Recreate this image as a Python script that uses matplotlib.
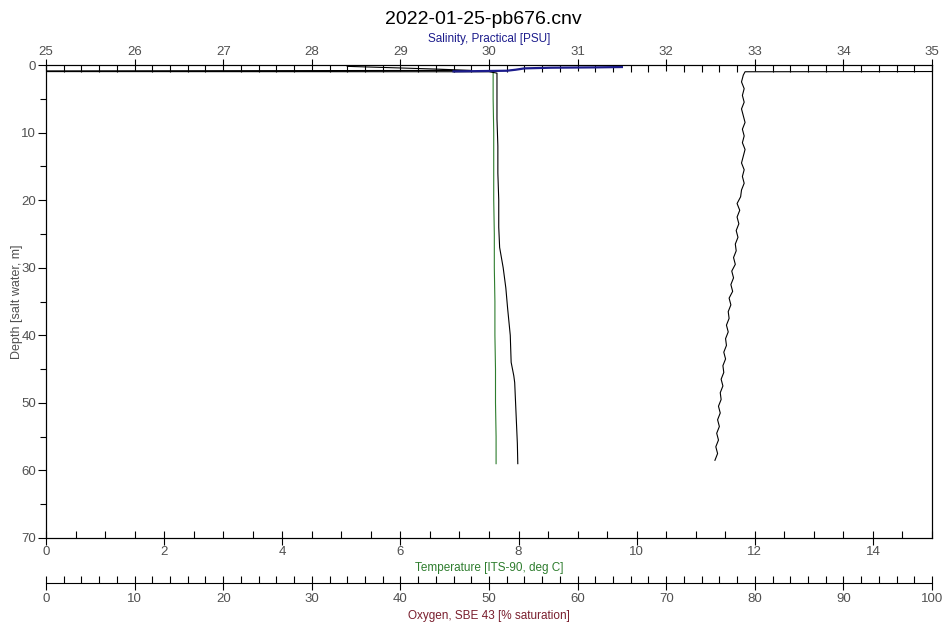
import matplotlib
matplotlib.use("Agg")
import matplotlib.pyplot as plt
from matplotlib.ticker import MultipleLocator

plt.rcParams['font.family'] = ['Liberation Sans', 'DejaVu Sans']

title = "2022-01-25-pb676.cnv"

# temperature [deg C] vs depth [m]
temp_depth = [1.0, 5, 10, 15, 20, 25, 30, 35, 40, 45, 50, 55, 59]
temp = [7.57, 7.57, 7.58, 7.58, 7.58, 7.59, 7.59, 7.60, 7.60, 7.61, 7.61, 7.62, 7.62]

# salinity-scale black profile (incl. surface spike)
sal_depth = [0.2, 0.4, 0.6, 0.8, 0.95, 1.0, 1.2, 4, 8, 12, 16, 20, 24, 27, 30, 33, 36,
             40, 44, 46, 47, 50, 53, 56, 59]
sal = [28.4, 28.9, 29.4, 29.8, 20.0, 30.0, 30.09, 30.09, 30.09, 30.10, 30.10, 30.11, 30.11,
       30.12, 30.16, 30.19, 30.21, 30.24, 30.25, 30.28, 30.29, 30.30, 30.31, 30.32, 30.325]

# blue surface salinity trace
sal_surf_depth = [0.30, 0.35, 0.40, 0.50, 0.70, 0.85, 0.95]
sal_surf = [31.5, 31.2, 30.7, 30.4, 30.3, 30.2, 29.6]

# oxygen-scale black profile [% saturation]
ox_depth = [0.95, 1.0, 1.5, 2.5, 3.5, 4.5, 5.5, 6.5, 7.5, 8.5, 9.5, 10.5, 11.5, 12.5, 13.5,
            14.5, 15.5, 16.5, 17.5, 18.5, 19.5, 20.5, 21.5, 22.5, 23.5, 24.5, 25.5, 26.5,
            27.5, 28.5, 29.5, 30.5, 31.5, 32.5, 33.5, 34.5, 35.5, 36.5, 37.5, 38.5, 39.5,
            40.5, 41.5, 42.5, 43.5, 44.5, 45.5, 46.5, 47.5, 48.5, 49.5, 50.5, 51.5, 52.5,
            53.5, 54.5, 55.5, 56.5, 57.5, 58.5]
ox = [110.0, 78.9, 78.7, 78.5, 78.8, 78.6, 78.8, 78.5, 78.7, 78.9, 78.6, 78.8, 78.6, 78.9,
      78.7, 78.5, 78.8, 78.6, 78.8, 78.5, 78.4, 78.0, 78.3, 78.0, 78.2, 77.9, 78.1, 77.8,
      77.9, 77.6, 77.8, 77.4, 77.6, 77.3, 77.5, 77.1, 77.3, 77.0, 77.1, 76.8, 77.0, 76.7,
      76.8, 76.5, 76.7, 76.4, 76.5, 76.2, 76.4, 76.1, 76.2, 75.9, 76.1, 75.8, 76.0, 75.7,
      75.9, 75.6, 75.8, 75.5]

green = '#2e7d2e'
blue = '#1c1c8c'
red = '#7a1f2e'
grey = '#505050'

fig = plt.figure(figsize=(9.42, 6.24), dpi=100)
ax = fig.add_axes([46/942, 1-538/624, 886/942, 473/624])

ax.plot(temp, temp_depth, color=green, lw=0.8)
ax.set_xlim(0, 15)
ax.set_ylim(70, 0)
ax.xaxis.set_major_locator(MultipleLocator(2))
ax.xaxis.set_minor_locator(MultipleLocator(0.5))
ax.yaxis.set_major_locator(MultipleLocator(10))
ax.yaxis.set_minor_locator(MultipleLocator(5))
ax.tick_params(axis='x', which='major', direction='inout', length=10, width=0.8,
               labelsize=9.5, labelcolor=grey, pad=1)
ax.tick_params(axis='x', which='minor', direction='in', length=5, width=0.8)
ax.tick_params(axis='y', which='major', direction='out', length=6, width=0.8,
               labelsize=9.5, labelcolor=grey, pad=1)
ax.tick_params(axis='y', which='minor', direction='out', length=4, width=0.8)
ax.set_xlabel('Temperature [ITS-90, deg C]', color=green, fontsize=8.5, labelpad=3)
ax.set_ylabel('Depth [salt water, m]', color=grey, fontsize=9, labelpad=-1)
for s in ax.spines.values():
    s.set_linewidth(0.8)

# salinity on top
ax_sal = ax.twiny()
ax_sal.plot(sal, sal_depth, color='black', lw=0.8)
ax_sal.plot(sal_surf, sal_surf_depth, color=blue, lw=1.6)
ax_sal.set_xlim(25, 35)
ax_sal.xaxis.set_major_locator(MultipleLocator(1))
ax_sal.xaxis.set_minor_locator(MultipleLocator(0.2))
ax_sal.tick_params(axis='x', which='major', direction='inout', length=8, width=0.8,
                   labelsize=9.5, labelcolor=grey, pad=1)
ax_sal.tick_params(axis='x', which='minor', direction='in', length=5, width=0.8)
ax_sal.set_xlabel('Salinity, Practical [PSU]', color=blue, fontsize=8.5, labelpad=3)

# oxygen on a second bottom axis
ax_ox = ax.twiny()
ax_ox.plot(ox, ox_depth, color='black', lw=0.8)
ax_ox.set_xlim(0, 100)
ax_ox.xaxis.set_ticks_position('bottom')
ax_ox.xaxis.set_label_position('bottom')
ax_ox.spines['bottom'].set_position(('outward', 32.4))
ax_ox.spines['bottom'].set_linewidth(0.8)
for k in ['top', 'left', 'right']:
    ax_ox.spines[k].set_visible(False)
ax_ox.xaxis.set_major_locator(MultipleLocator(10))
ax_ox.xaxis.set_minor_locator(MultipleLocator(2))
ax_ox.tick_params(axis='x', which='major', direction='inout', length=10, width=0.8,
                  labelsize=9.5, labelcolor=grey, pad=2.5)
ax_ox.tick_params(axis='x', which='minor', direction='in', length=5, width=0.8)
ax_ox.set_xlabel('Oxygen, SBE 43 [% saturation]', color=red, fontsize=8.5, labelpad=3)

fig.text(483/942, 1-19/624, title, ha='center', va='center', fontsize=14)

fig.savefig('out.png', dpi=100)
